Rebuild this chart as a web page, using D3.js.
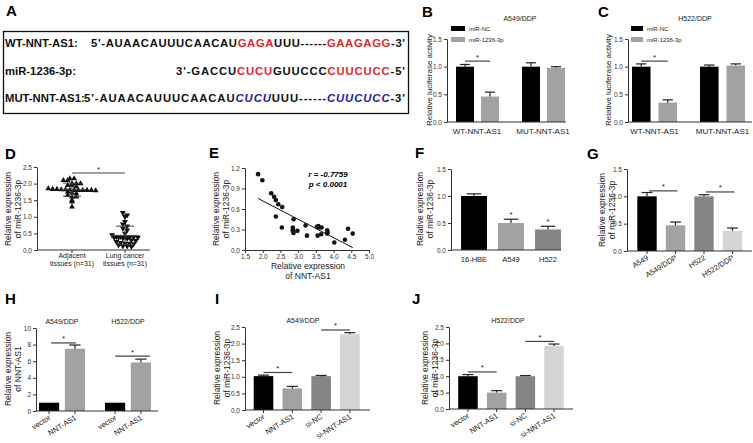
<!DOCTYPE html>
<html>
<head>
<meta charset="utf-8">
<script src="https://cdn.jsdelivr.net/npm/d3@7"></script>
<style>
body { margin: 0; background: #fff; }
svg { display: block; font-family: "Liberation Sans", Arial, sans-serif; }
</style>
</head>
<body>
<svg id="fig" width="753" height="443"></svg>
<script>
// ---------- data ----------
// panel A: sequence pieces, k = black, r = red, b = blue italic
const seqWT  = [["5'-AUAACAUUUCAACAU", "k"], ["GAGA", "r"], ["UUU------", "k"], ["GAAGAGG", "r"], ["-3'", "k"]];
const seqMiR = [["3'-GACCU", "k"], ["CUCU", "r"], ["GUUCCC", "k"], ["CUUCUCC", "r"], ["-5'", "k"]];
const seqMUT = [["5'-AUAACAUUUCAACAU", "k"], ["CUCU", "b"], ["UUU------", "k"], ["CUUCUCC", "b"], ["-3'", "k"]];

// panel B / C luciferase
const lucGroups = ["WT-NNT-AS1", "MUT-NNT-AS1"];
const lucSeries = ["miR-NC", "miR-1236-3p"];
const bNC = [1.0, 1.0],  bNCerr = [0.04, 0.07];
const bMiR = [0.46, 0.98], bMiRerr = [0.08, 0.02];
const cNC = [1.0, 1.0],  cNCerr = [0.05, 0.03];
const cMiR = [0.35, 1.02], cMiRerr = [0.05, 0.03];

// panel D tissues (n=31 each)
const dCats = [["Adjacent", "tissues (n=31)"], ["Lung cancer", "tissues (n=31)"]];
const dAdjacent = [2.15, 2.15, 2.1, 2.1, 2.0, 2.0, 2.0, 1.95, 1.95, 1.9, 1.85, 1.83, 1.83, 1.82, 1.82, 1.81,
                   1.8, 1.8, 1.8, 1.8, 1.8, 1.79, 1.75, 1.72, 1.7, 1.65, 1.6, 1.6, 1.5, 1.45, 1.3];
const dLung = [1.12, 1.05, 1.0, 0.85, 0.78, 0.72, 0.65, 0.6, 0.5, 0.45, 0.4, 0.4, 0.39, 0.38, 0.38, 0.38,
               0.37, 0.37, 0.36, 0.35, 0.3, 0.28, 0.25, 0.22, 0.2, 0.2, 0.18, 0.15, 0.12, 0.12, 0.1];

// panel E correlation
const eNNT = [1.87, 1.99, 2.24, 2.32, 2.37, 2.44, 2.55, 2.37, 2.54, 2.87, 2.85, 2.85, 2.87, 2.85, 2.98, 3.21,
              3.25, 3.53, 3.57, 3.55, 3.66, 3.65, 3.82, 3.83, 3.82, 4.02, 4.32, 4.41, 4.54, 3.58, 2.86];
const eMiR = [1.11, 1.02, 0.83, 0.78, 0.73, 0.67, 0.63, 0.49, 0.33, 0.45, 0.33, 0.28, 0.25, 0.30, 0.28, 0.36,
              0.21, 0.34, 0.35, 0.21, 0.33, 0.23, 0.29, 0.26, 0.24, 0.11, 0.15, 0.31, 0.24, 0.33, 0.27];

// panel F
const fCats = ["16-HBE", "A549", "H522"];
const fVals = [1.0, 0.5, 0.38], fErr = [0.04, 0.07, 0.06];
// panel G
const gCats = ["A549", "A549/DDP", "H522", "H522/DDP"];
const gVals = [1.0, 0.47, 1.0, 0.37], gErr = [0.07, 0.06, 0.03, 0.05];
// panel H
const hGroups = ["A549/DDP", "H522/DDP"];
const hCats = ["vector", "NNT-AS1"];
const hVector = [1.0, 1.0], hVectorErr = [0, 0];
const hNNT = [7.5, 5.85], hNNTerr = [0.45, 0.4];
// panel I / J
const ijCats = ["vector", "NNT-AS1", "si-NC", "si-NNT-AS1"];
const iVals = [1.02, 0.65, 1.02, 2.28], iErr = [0.03, 0.06, 0.02, 0.05];
const jVals = [1.0, 0.5, 1.0, 1.92], jErr = [0.05, 0.06, 0.02, 0.06];

// ---------- helpers ----------
const svg = d3.select("#fig");
const INK = "#222", AX = "#333";
const BLACK = "#000", GRAY = "#a2a2a2", DARK = "#858585", LIGHT = "#d4d4d4";

function letter(t, x, y) {
  svg.append("text").attr("x", x).attr("y", y).attr("font-size", 15).attr("font-weight", "bold").text(t);
}

function yAxis(y, x0, ticks, fmt) {
  const a = svg.append("g").attr("transform", `translate(${x0},0)`)
    .call(d3.axisLeft(y).tickValues(ticks).tickFormat(fmt).tickSize(3).tickSizeOuter(0).tickPadding(2));
  a.select(".domain").attr("stroke", AX);
  a.selectAll(".tick line").attr("stroke", AX);
  a.selectAll("text").attr("font-size", 6.5).attr("fill", AX).attr("font-family", null);
  return a;
}

// x axis line with ticks at given centers
function xAxis(x0, x1, y0, centers) {
  const g = svg.append("g");
  g.append("line").attr("x1", x0).attr("x2", x1).attr("y1", y0).attr("y2", y0).attr("stroke", AX);
  g.selectAll("line.t").data(centers).join("line").attr("class", "t")
    .attr("x1", d => d).attr("x2", d => d).attr("y1", y0).attr("y2", y0 + 3).attr("stroke", AX);
}

// x = baseline of the first line
function yLabel(lines, x, yMid, fs) {
  const t = svg.append("text").attr("transform", `translate(${x},${yMid}) rotate(-90)`)
    .attr("text-anchor", "middle").attr("font-size", fs || 8.5).attr("fill", INK);
  lines.forEach((l, i) => t.append("tspan").attr("x", 0).attr("dy", i ? "1.2em" : 0).text(l));
}

function title(t, x, y) {
  svg.append("text").attr("x", x).attr("y", y).attr("text-anchor", "middle")
    .attr("font-size", 7).attr("fill", INK).text(t);
}

// bars: [{x, w, v, e, c}]
function bars(items, y) {
  const g = svg.append("g");
  g.selectAll("rect").data(items).join("rect")
    .attr("x", d => d.x).attr("width", d => d.w)
    .attr("y", d => y(d.v)).attr("height", d => y(0) - y(d.v)).attr("fill", d => d.c);
  const eb = items.filter(d => d.e > 0);
  g.selectAll("line.v").data(eb).join("line").attr("class", "v")
    .attr("x1", d => d.x + d.w / 2).attr("x2", d => d.x + d.w / 2)
    .attr("y1", d => y(d.v)).attr("y2", d => y(d.v + d.e)).attr("stroke", INK).attr("stroke-width", 1.2);
  g.selectAll("line.h").data(eb).join("line").attr("class", "h")
    .attr("x1", d => d.x + d.w * 0.22).attr("x2", d => d.x + d.w * 0.78)
    .attr("y1", d => y(d.v + d.e)).attr("y2", d => y(d.v + d.e)).attr("stroke", INK).attr("stroke-width", 1.2);
}

function sig(x1, x2, yy) {
  svg.append("line").attr("x1", x1).attr("x2", x2).attr("y1", yy).attr("y2", yy)
    .attr("stroke", "#444").attr("stroke-width", 1.2);
  svg.append("text").attr("x", (x1 + x2) / 2).attr("y", yy - 1.5).attr("text-anchor", "middle")
    .attr("font-size", 8).attr("fill", INK).text("*");
}

function star(x, yy) {
  svg.append("text").attr("x", x).attr("y", yy).attr("text-anchor", "middle")
    .attr("font-size", 8).attr("fill", INK).text("*");
}

function rotLabels(cats, centers, y0, fs) {
  svg.append("g").selectAll("text").data(cats).join("text")
    .attr("transform", (d, i) => `translate(${centers[i] + 2},${y0 + 8}) rotate(-32)`)
    .attr("text-anchor", "end").attr("font-size", fs || 7.5).attr("fill", INK).text(d => d);
}

const f1 = d3.format(".1f");

// ---------- A ----------
letter("A", 6, 16);
svg.append("rect").attr("x", 3.5).attr("y", 31.5).attr("width", 405).attr("height", 82)
  .attr("fill", "none").attr("stroke", "#111").attr("stroke-width", 1.3);
const seqColor = { k: "#111", r: "#e8262b", b: "#1c1ca6" };
function seqLine(label, pieces, seqX, yy) {
  svg.append("text").attr("x", 5).attr("y", yy).attr("font-size", 11.3).attr("font-weight", "bold")
    .attr("fill", "#111").text(label);
  const t = svg.append("text").attr("x", seqX).attr("y", yy).attr("font-size", 11.3).attr("font-weight", "bold")
    .attr("textLength", 405 - seqX).attr("lengthAdjust", "spacing");
  pieces.forEach(p => t.append("tspan").attr("fill", seqColor[p[1]])
    .attr("font-style", p[1] === "b" ? "italic" : null).text(p[0]));
}
seqLine("WT-NNT-AS1:", seqWT, 91, 47);
seqLine("miR-1236-3p:", seqMiR, 176, 75);
seqLine("MUT-NNT-AS1:", seqMUT, 84, 102);

// ---------- B & C ----------
function lucPanel(opt, nc, ncErr, mir, mirErr) {
  const y = d3.scaleLinear().domain([0, 1.5]).range([122, 39]);
  const gx = d3.scaleBand().domain(lucGroups).range(opt.groupRange);
  const sx = d3.scaleBand().domain(lucSeries).range(opt.inner).paddingInner(opt.pad);
  const items = [];
  lucGroups.forEach((g, i) => {
    items.push({ x: gx(g) + sx(lucSeries[0]), w: sx.bandwidth(), v: nc[i], e: ncErr[i], c: BLACK });
    items.push({ x: gx(g) + sx(lucSeries[1]), w: sx.bandwidth(), v: mir[i], e: mirErr[i], c: GRAY });
  });
  bars(items, y);
  yAxis(y, opt.ax, [0, 0.5, 1.0, 1.5], f1);
  const centers = lucGroups.map(g => gx(g) + gx.bandwidth() / 2);
  xAxis(opt.ax, opt.axEnd, y(0), []);
  svg.append("g").selectAll("text").data(lucGroups).join("text")
    .attr("x", (d, i) => centers[i]).attr("y", 134).attr("text-anchor", "middle")
    .attr("font-size", 8).attr("fill", INK).text(d => d);
  yLabel(["Relative luciferase activity"], opt.labX, 80, 8);
  title(opt.title, opt.titleX, 21);
  // legend
  lucSeries.forEach((s, i) => {
    svg.append("rect").attr("x", opt.legX).attr("y", 26 + i * 11).attr("width", opt.legW).attr("height", 5)
      .attr("fill", i ? GRAY : BLACK);
    svg.append("text").attr("x", opt.legX + opt.legW + 4).attr("y", 31 + i * 11)
      .attr("font-size", 6).attr("fill", INK).text(s);
  });
  const b0 = items[0], b1 = items[1];
  sig(b0.x + b0.w / 2, b1.x + b1.w / 2, y(1.1));
}
letter("B", 422, 17);
lucPanel({ groupRange: [444, 576], inner: [12, 55], pad: 0.28, ax: 447, axEnd: 566, labX: 432,
  title: "A549/DDP", titleX: 520, legX: 451, legW: 14 }, bNC, bNCerr, bMiR, bMiRerr);
letter("C", 598, 17);
lucPanel({ groupRange: [620.5, 756.5], inner: [11.5, 56.5], pad: 0.3, ax: 628, axEnd: 752, labX: 611,
  title: "H522/DDP", titleX: 695, legX: 631, legW: 12 }, cNC, cNCerr, cMiR, cMiRerr);

// ---------- D ----------
letter("D", 5, 159);
{
  const y = d3.scaleLinear().domain([0, 2.5]).range([250, 167]);
  const x = d3.scalePoint().domain([0, 1]).range([72, 125]);
  yAxis(y, 37, [0, 0.5, 1.0, 1.5, 2.0, 2.5], f1);
  xAxis(37, 150, y(0), [72, 125]);
  yLabel(["Relative expression", "of miR-1236-3p"], 11, 209);
  [dAdjacent, dLung].forEach((vals, gi) => {
    // simple beeswarm: points in the same row spread sideways
    const rows = d3.group(vals, v => Math.floor(y(v) / 3.6));
    const pts = [];
    rows.forEach(r => r.forEach((v, k) => pts.push({ v, dx: (k - (r.length - 1) / 2) * 4.3 })));
    svg.append("g").selectAll("path").data(pts).join("path")
      .attr("transform", d => `translate(${x(gi) + d.dx},${y(d.v)}) rotate(${gi ? 180 : 0})`)
      .attr("d", d3.symbol(d3.symbolTriangle, 15)).attr("fill", "#111");
    const m = d3.mean(vals), sd = d3.deviation(vals);
    const cx = x(gi);
    const g = svg.append("g").attr("stroke", "#444").attr("stroke-width", 1);
    g.append("line").attr("x1", cx - 14).attr("x2", cx + 14).attr("y1", y(m)).attr("y2", y(m));
    g.append("line").attr("x1", cx).attr("x2", cx).attr("y1", y(m - sd)).attr("y2", y(m + sd));
    [m - sd, m + sd].forEach(v => g.append("line").attr("x1", cx - 9).attr("x2", cx + 9).attr("y1", y(v)).attr("y2", y(v)));
  });
  svg.append("g").selectAll("text").data(dCats).join("text")
    .attr("x", (d, i) => x(i)).attr("y", 258).attr("text-anchor", "middle").attr("font-size", 7).attr("fill", INK)
    .each(function (d) {
      d.forEach((l, k) => d3.select(this).append("tspan").attr("x", d3.select(this).attr("x"))
        .attr("dy", k ? "1.2em" : 0).text(l));
    });
  sig(72, 125, 173);
}

// ---------- E ----------
letter("E", 209, 158);
{
  const x = d3.scaleLinear().domain([1.5, 5.0]).range([245, 369]);
  const y = d3.scaleLinear().domain([0, 1.2]).range([250, 168]);
  yAxis(y, 245, [0, 0.3, 0.6, 0.9, 1.2], f1);
  const xa = svg.append("g").attr("transform", `translate(0,${y(0)})`)
    .call(d3.axisBottom(x).tickValues(d3.range(1.5, 5.01, 0.5)).tickFormat(f1).tickSize(3).tickSizeOuter(0).tickPadding(1));
  xa.select(".domain").attr("stroke", AX);
  xa.selectAll(".tick line").attr("stroke", AX);
  xa.selectAll("text").attr("font-size", 6.5).attr("fill", AX).attr("font-family", null);
  const pts = eNNT.map((v, i) => [v, eMiR[i]]);
  svg.append("g").selectAll("circle").data(pts).join("circle")
    .attr("cx", d => x(d[0])).attr("cy", d => y(d[1])).attr("r", 2.3).attr("fill", "#111");
  // least squares fit
  const mx = d3.mean(eNNT), my = d3.mean(eMiR);
  const slope = d3.sum(pts, d => (d[0] - mx) * (d[1] - my)) / d3.sum(pts, d => (d[0] - mx) ** 2);
  const x0 = d3.min(eNNT), x1 = d3.max(eNNT);
  svg.append("line").attr("x1", x(x0)).attr("x2", x(x1))
    .attr("y1", y(my + slope * (x0 - mx))).attr("y2", y(my + slope * (x1 - mx)))
    .attr("stroke", "#111").attr("stroke-width", 1);
  yLabel(["Relative expression", "of miR-1236-3p"], 219, 209);
  svg.append("text").attr("x", 308).attr("y", 269).attr("text-anchor", "middle").attr("font-size", 8.5).attr("fill", INK)
    .call(t => { t.append("tspan").attr("x", 308).text("Relative expression");
                 t.append("tspan").attr("x", 308).attr("dy", "1.2em").text("of NNT-AS1"); });
  svg.append("text").attr("x", 328).attr("y", 177).attr("text-anchor", "middle").attr("font-size", 8)
    .attr("font-weight", "bold").attr("font-style", "italic").text("r = -0.7759");
  svg.append("text").attr("x", 328).attr("y", 187).attr("text-anchor", "middle").attr("font-size", 8)
    .attr("font-weight", "bold").attr("font-style", "italic").text("p < 0.0001");
}

// ---------- F ----------
letter("F", 415, 158);
{
  const y = d3.scaleLinear().domain([0, 1.5]).range([250, 169]);
  const x = d3.scaleBand().domain(fCats).range([455.5, 566.5]).paddingInner(0.3).paddingOuter(0.15);
  const cols = [BLACK, GRAY, DARK];
  bars(fCats.map((c, i) => ({ x: x(c), w: x.bandwidth(), v: fVals[i], e: fErr[i], c: cols[i] })), y);
  yAxis(y, 451, [0, 0.5, 1.0, 1.5], f1);
  const centers = fCats.map(c => x(c) + x.bandwidth() / 2);
  xAxis(451, 561, y(0), []);
  svg.append("g").selectAll("text").data(fCats).join("text")
    .attr("x", (d, i) => centers[i]).attr("y", 262).attr("text-anchor", "middle")
    .attr("font-size", 7.5).attr("fill", INK).text(d => d);
  yLabel(["Relative expression", "of miR-1236-3p"], 423, 209);
  [1, 2].forEach(i => star(centers[i], y(fVals[i] + fErr[i]) - 2));
}

// ---------- G ----------
letter("G", 587, 159);
{
  const y = d3.scaleLinear().domain([0, 1.5]).range([251, 169]);
  const x = d3.scaleBand().domain(gCats).range([632.75, 746.75]).paddingInner(0.32).paddingOuter(0.16);
  const cols = [BLACK, GRAY, DARK, LIGHT];
  bars(gCats.map((c, i) => ({ x: x(c), w: x.bandwidth(), v: gVals[i], e: gErr[i], c: cols[i] })), y);
  yAxis(y, 627, [0, 0.5, 1.0, 1.5], f1);
  const centers = gCats.map(c => x(c) + x.bandwidth() / 2);
  xAxis(627, 752, y(0), centers);
  rotLabels(gCats, centers, y(0));
  yLabel(["Relative expression", "of miR-1236-3p"], 605, 210);
  sig(centers[0] + 2, centers[1] + 2, y(1.1));
  sig(centers[2] + 2, centers[3] + 2, y(1.08));
}

// ---------- H ----------
letter("H", 5, 304);
{
  const y = d3.scaleLinear().domain([0, 10]).range([411, 328]);
  const gx = d3.scaleBand().domain(hGroups).range([31, 163]);
  const sx = d3.scaleBand().domain(hCats).range([8, 54]).paddingInner(0.22);
  const items = [], centers = [], labels = [];
  hGroups.forEach((g, i) => {
    items.push({ x: gx(g) + sx(hCats[0]), w: sx.bandwidth(), v: hVector[i], e: hVectorErr[i], c: BLACK });
    items.push({ x: gx(g) + sx(hCats[1]), w: sx.bandwidth(), v: hNNT[i], e: hNNTerr[i], c: GRAY });
    hCats.forEach(c => { centers.push(gx(g) + sx(c) + sx.bandwidth() / 2); labels.push(c); });
    title(g, gx(g) + gx.bandwidth() / 2 - 2, 324);
  });
  bars(items, y);
  yAxis(y, 36, [0, 2, 4, 6, 8, 10], d3.format("d"));
  xAxis(36, 158, y(0), centers);
  rotLabels(labels, centers, y(0));
  yLabel(["Relative expression", "of NNT-AS1"], 11, 369);
  sig(centers[0] + 2, centers[1] + 1, y(8.2));
  sig(centers[2], centers[3] + 9, y(6.6));
}

// ---------- I & J ----------
function ijPanel(vals, errs, opt) {
  const y = d3.scaleLinear().domain([0, 2.5]).range([opt.y0, 327]);
  const x = d3.scaleBand().domain(ijCats).range(opt.range).paddingInner(0.32).paddingOuter(0.16);
  const cols = [BLACK, GRAY, DARK, LIGHT];
  bars(ijCats.map((c, i) => ({ x: x(c), w: x.bandwidth(), v: vals[i], e: errs[i], c: cols[i] })), y);
  yAxis(y, opt.ax, [0, 0.5, 1.0, 1.5, 2.0, 2.5], f1);
  const centers = ijCats.map(c => x(c) + x.bandwidth() / 2);
  xAxis(opt.ax, opt.axEnd, y(0), centers);
  rotLabels(ijCats, centers, y(0));
  yLabel(["Relative expression", "of miR-1236-3p"], opt.labX, 368);
  title(opt.title, opt.titleX, 323);
  sig(centers[0], centers[1], y(Math.max(vals[0] + errs[0], vals[1] + errs[1]) + 0.08));
  sig(centers[2], centers[3], y(vals[3] + errs[3] + 0.08));
}
letter("I", 215, 304);
ijPanel(iVals, iErr, { y0: 410, range: [249.1, 364.3], ax: 245, axEnd: 370, labX: 220, title: "A549/DDP", titleX: 303 });
letter("J", 412, 304);
ijPanel(jVals, jErr, { y0: 409, range: [453.6, 568.4], ax: 449, axEnd: 573, labX: 428, title: "H522/DDP", titleX: 508 });
</script>
</body>
</html>
